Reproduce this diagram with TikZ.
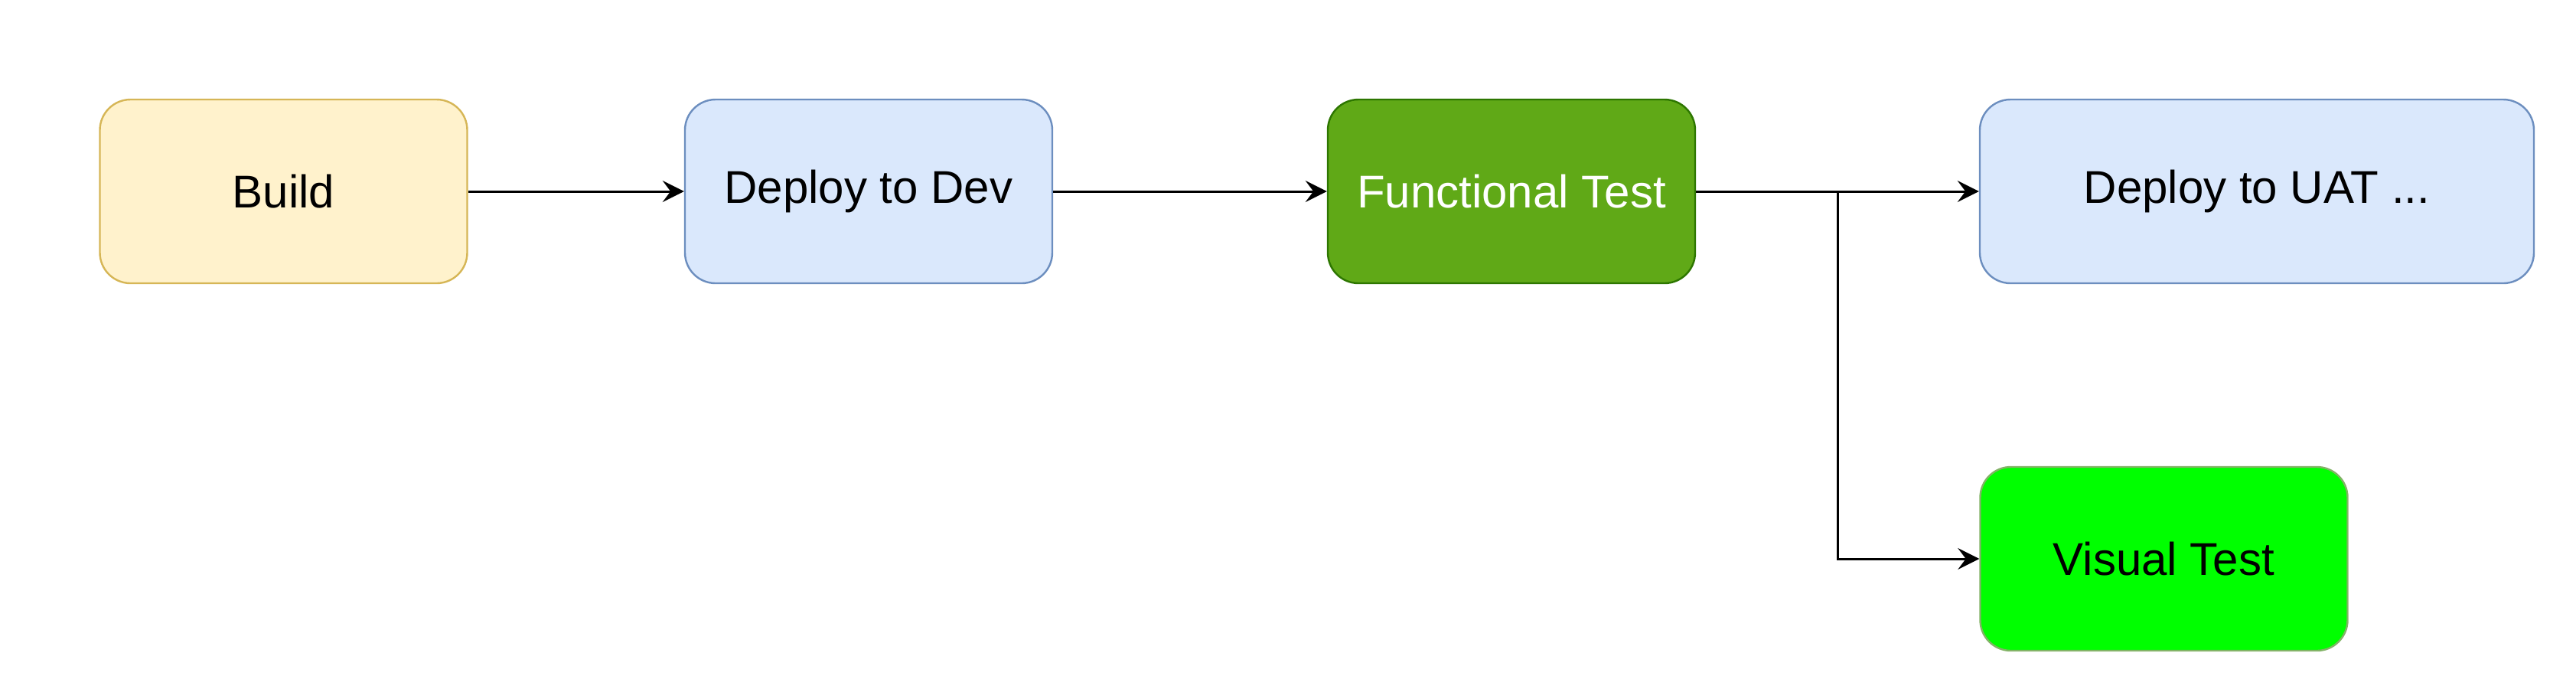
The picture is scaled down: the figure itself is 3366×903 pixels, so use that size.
\documentclass[tikz,border=0pt]{standalone}
\usepackage{fontspec}
\setmainfont{Liberation Sans}
\usetikzlibrary{arrows.meta}
\definecolor{ylfill}{HTML}{FFF2CC}
\definecolor{ylline}{HTML}{D6B656}
\definecolor{blfill}{HTML}{DAE8FC}
\definecolor{blline}{HTML}{6C8EBF}
\definecolor{dgfill}{HTML}{60A917}
\definecolor{dgline}{HTML}{2D7600}
\definecolor{vgfill}{HTML}{00FF00}
\definecolor{vgline}{HTML}{82B366}
\tikzset{
  stagebox/.style={draw, rounded corners=10pt, line width=0.6pt, minimum height=60pt,
    minimum width=120pt, inner sep=0pt, align=center,
    font=\fontsize{15pt}{18pt}\selectfont},
  flow/.style={draw=black, line width=0.75pt,
    -{Stealth[length=7pt, width=7pt, inset=2.6pt]}}
}
\begin{document}
\begin{tikzpicture}[x=0.25pt,y=-0.25pt]
\useasboundingbox[fill=white] (0,0) rectangle (3366,903);
\node[stagebox, fill=ylfill, draw=ylline] (build) at (370.5,250) {Build};
\node[stagebox, fill=blfill, draw=blline] (dev) at (1135,250) {Deploy to Dev};
\node[stagebox, fill=dgfill, draw=dgline, text=white] (func) at (1975,250) {Functional Test};
\node[stagebox, fill=blfill, draw=blline, minimum width=181pt] (uat) at (2949,250) {Deploy to UAT ...};
\node[stagebox, fill=vgfill, draw=vgline] (visual) at (2827.5,730) {Visual Test};
\coordinate (split) at (2401,250);
\draw[flow] (build) -- (dev);
\draw[flow] (dev) -- (func);
\draw[flow] (func) -- (uat);
\draw[flow] (split) |- (visual);
\end{tikzpicture}
\end{document}
